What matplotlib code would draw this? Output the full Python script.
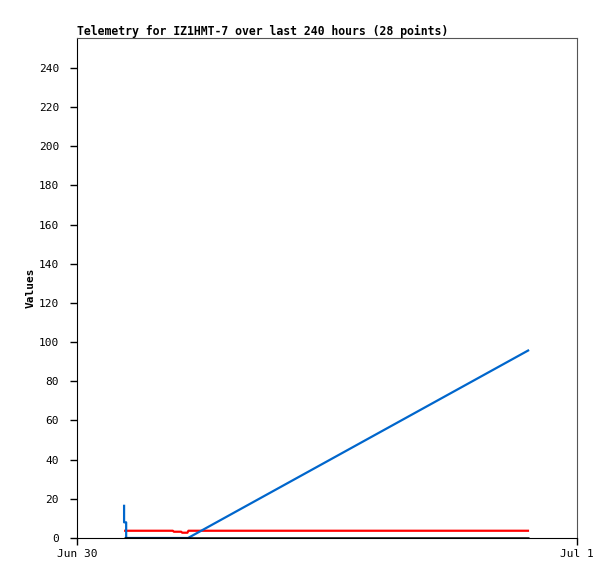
import matplotlib
matplotlib.use("Agg")
import matplotlib.pyplot as plt

# hours after Jun 30 00:00
blue_t = [2.26, 2.26, 2.36, 2.36, 5.33, 21.7]
blue_v = [17, 8, 8, 0, 0, 96]

red_t = [2.26, 4.6, 4.65, 5.0, 5.05, 5.3, 5.35, 21.7]
red_v = [3.7, 3.7, 3.2, 3.2, 2.7, 2.7, 3.7, 3.7]

black_t = [2.26, 21.7]
black_v = [0, 0]

yticks = list(range(0, 260, 20))
xticks = [0, 24]
xlabels = ["Jun 30", "Jul 1"]

mono = "DejaVu Sans Mono"

fig = plt.figure(figsize=(6.15, 5.79), dpi=100)
ax = fig.add_axes([77 / 615, 41 / 579, 500 / 615, 500 / 579])

ax.plot(blue_t, blue_v, color="#0066cc", lw=1.6, solid_capstyle="butt", zorder=2)
ax.plot(black_t, black_v, color="black", lw=1.8, solid_capstyle="butt", zorder=3)
ax.plot(red_t, red_v, color="#ff0000", lw=1.6, solid_capstyle="butt", zorder=1)

ax.set_xlim(0, 24)
ax.set_ylim(0, 255.3)
ax.set_yticks(yticks)
ax.set_yticklabels([str(v) for v in yticks], family=mono, fontsize=8)
ax.set_xticks(xticks)
ax.set_xticklabels(xlabels, family=mono, fontsize=8)
ax.tick_params(axis="y", direction="out", length=5, width=1, pad=8)
ax.tick_params(axis="x", direction="out", length=5, width=1, pad=3)

for s in ["top", "right"]:
    ax.spines[s].set_color("#555555")
for s in ["left", "bottom"]:
    ax.spines[s].set_color("black")

ax.set_ylabel("Values", family=mono, fontweight="bold", fontsize=8, labelpad=2)
ax.set_title("Telemetry for IZ1HMT-7 over last 240 hours (28 points)",
             family=mono, fontweight="bold", fontsize=8.3, loc="left", pad=2)

fig.savefig("out.png", dpi=100)
